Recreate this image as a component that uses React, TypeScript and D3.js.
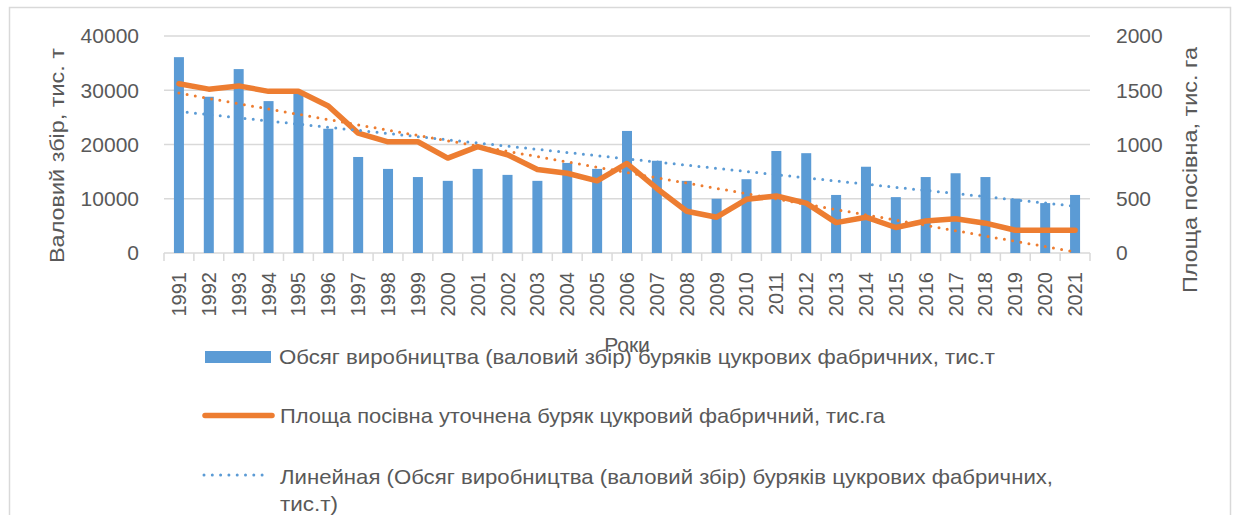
import React from "react";
import * as d3 from "d3";

const years = d3.range(1991, 2022).map(String);
const production = [36100, 28800, 33900, 28000, 29600, 22900, 17700, 15500, 14000, 13300, 15500, 14400, 13300, 16600, 15500, 22500, 17000, 13300, 10000, 13600, 18800, 18400, 10700, 15900, 10300, 14000, 14700, 14000, 10000, 9200, 10700];
const area = [1560, 1510, 1540, 1490, 1490, 1355, 1105, 1025, 1025, 875, 980, 905, 770, 735, 665, 825, 595, 385, 330, 495, 525, 460, 280, 330, 235, 295, 315, 275, 210, 210, 210];
const leftTicks = [0, 10000, 20000, 30000, 40000];
const rightTicks = [0, 500, 1000, 1500, 2000];

const legendLabels = [
  "Обсяг виробництва (валовий збір) буряків цукрових фабричних, тис.т",
  "Площа посівна уточнена буряк цукровий фабричний, тис.га",
  "Линейная (Обсяг виробництва (валовий збір) буряків цукрових фабричних,",
  "тис.т)",
];

const BLUE = "#5B9BD5";
const ORANGE = "#ED7D31";
const TEXT = "#595959";
const GRID = "#d9d9d9";
const FONT = "'Liberation Sans', Arial, sans-serif";

function linreg(vals: number[]) {
  const n = vals.length;
  const xs = vals.map((_, i) => i);
  const mx = d3.mean(xs)!;
  const my = d3.mean(vals)!;
  let num = 0, den = 0;
  xs.forEach((x, i) => { num += (x - mx) * (vals[i] - my); den += (x - mx) * (x - mx); });
  const b = num / den;
  const a = my - b * mx;
  return (i: number) => a + b * i;
}

export default function App() {
  const W = 1238, H = 515;
  const left = 164, right = 1090, top = 36, bottom = 253;
  const x = d3.scaleBand<string>().domain(years).range([left, right]).padding(0);
  const yL = d3.scaleLinear().domain([0, 40000]).range([bottom, top]);
  const yR = d3.scaleLinear().domain([0, 2000]).range([bottom, top]);
  const bw = x.bandwidth();
  const barW = bw * 0.335;
  const cx = (y: string) => (x(y) as number) + bw / 2;

  const areaLine = d3.line<number>().x((_, i) => cx(years[i])).y((d) => yR(d));
  const tP = linreg(production);
  const tA = linreg(area);
  const n = years.length;
  const trendP = d3.line<number>().x((i) => cx(years[i])).y((i) => yL(tP(i)))([0, n - 1]);
  const trendA = d3.line<number>().x((i) => cx(years[i])).y((i) => yR(tA(i)))([0, n - 1]);

  return (
    <svg width={W} height={H} style={{ position: "absolute", left: 0, top: 0, background: "#fff" }} fontFamily={FONT}>
      <rect x={0} y={0} width={W} height={H} fill="#fff" />
      <rect x={9.5} y={7.5} width={1221} height={530} fill="none" stroke={GRID} strokeWidth={1.5} />
      {leftTicks.map((t) => (
        <line key={"g" + t} x1={left} x2={right} y1={yL(t)} y2={yL(t)} stroke={GRID} strokeWidth={1.5} />
      ))}
      {/* x-axis ticks */}
      {d3.range(n + 1).map((i) => {
        const xx = left + i * bw;
        return <line key={"xt" + i} x1={xx} x2={xx} y1={bottom} y2={bottom + 8} stroke={GRID} strokeWidth={1.5} />;
      })}
      {/* bars */}
      {production.map((v, i) => (
        <rect key={"b" + i} x={cx(years[i]) - barW / 2} y={yL(v)} width={barW} height={bottom - yL(v)} fill={BLUE} />
      ))}
      {/* orange line */}
      <path d={areaLine(area) || ""} fill="none" stroke={ORANGE} strokeWidth={5.5} strokeLinejoin="round" strokeLinecap="round" />
      {/* trendlines */}
      <path d={trendP || ""} fill="none" stroke={BLUE} strokeWidth={3} strokeDasharray="0 8.3" strokeLinecap="round" />
      <path d={trendA || ""} fill="none" stroke={ORANGE} strokeWidth={3} strokeDasharray="0 8.3" strokeLinecap="round" />
      {/* left ticks */}
      {leftTicks.map((t) => (
        <text key={"lt" + t} x={139} y={yL(t)} dy="0.35em" textAnchor="end" fontSize={21} fill={TEXT}>{t}</text>
      ))}
      {rightTicks.map((t) => (
        <text key={"rt" + t} x={1116} y={yR(t)} dy="0.35em" textAnchor="start" fontSize={21} fill={TEXT}>{t}</text>
      ))}
      {/* x labels */}
      {years.map((y) => (
        <text key={"xl" + y} transform={`translate(${cx(y) + 7},272) rotate(-90)`} textAnchor="end" fontSize={20} fill={TEXT}>{y}</text>
      ))}
      {/* axis titles */}
      <text transform="translate(64,155.5) rotate(-90)" textAnchor="middle" fontSize={21} fill={TEXT} textLength={215} lengthAdjust="spacingAndGlyphs">Валовий збір, тис. т</text>
      <text transform="translate(1197,170) rotate(-90)" textAnchor="middle" fontSize={21} fill={TEXT} textLength={246} lengthAdjust="spacingAndGlyphs">Площа посівна, тис. га</text>
      <text x={627} y={352} textAnchor="middle" fontSize={21} fill={TEXT}>Роки</text>
      {/* legend */}
      <rect x={205} y={351} width={66} height={12} fill={BLUE} />
      <text x={279} y={364} fontSize={21} fill={TEXT} textLength={716} lengthAdjust="spacingAndGlyphs">{legendLabels[0]}</text>
      <line x1={205} x2={272} y1={415.5} y2={415.5} stroke={ORANGE} strokeWidth={5.5} strokeLinecap="round" />
      <text x={280} y={423} fontSize={21} fill={TEXT} textLength={605} lengthAdjust="spacingAndGlyphs">{legendLabels[1]}</text>
      <line x1={204} x2={266} y1={475} y2={475} stroke={BLUE} strokeWidth={3} strokeDasharray="0 8.3" strokeLinecap="round" />
      <text x={280} y={484} fontSize={21} fill={TEXT} textLength={773} lengthAdjust="spacingAndGlyphs">{legendLabels[2]}</text>
      <text x={280} y={511} fontSize={21} fill={TEXT} textLength={58} lengthAdjust="spacingAndGlyphs">{legendLabels[3]}</text>
    </svg>
  );
}
